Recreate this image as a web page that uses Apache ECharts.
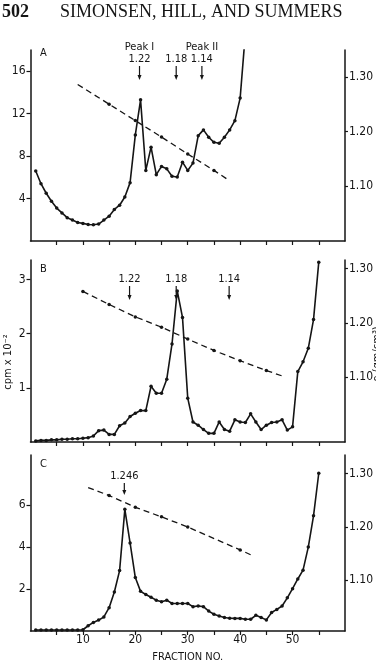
<!DOCTYPE html>
<html>
<head>
<meta charset="utf-8">
<script src="https://cdn.jsdelivr.net/npm/echarts@6/dist/echarts.min.js"></script>
<style>
  html, body { margin: 0; padding: 0; background: #fff; }
  #chart { width: 376px; height: 664px; }
</style>
</head>
<body>
<div id="chart"></div>
<script>
// cpm values per fraction, first entry = fraction 1
const cpmA = [6.6, 5.4, 4.5, 3.75, 3.1, 2.65, 2.2, 1.97, 1.75, 1.66, 1.55, 1.53, 1.6, 1.97, 2.34, 2.97, 3.37, 4.15, 5.5, 10.0,
  13.3, 6.65, 8.84, 6.25, 7.03, 6.8, 6.1, 6.03, 7.43, 6.65, 7.34, 9.93, 10.47, 9.78, 9.3, 9.21, 9.78, 10.47, 11.34, 13.47, 19.6];
const cpmB = [0.02, 0.03, 0.03, 0.04, 0.04, 0.05, 0.05, 0.06, 0.06, 0.07, 0.08, 0.11, 0.21, 0.22, 0.14, 0.14, 0.30, 0.35, 0.47, 0.53,
  0.58, 0.58, 1.03, 0.90, 0.90, 1.16, 1.81, 2.79, 2.30, 0.81, 0.37, 0.31, 0.23, 0.16, 0.16, 0.37, 0.23, 0.20, 0.41, 0.37,
  0.36, 0.52, 0.37, 0.23, 0.31, 0.36, 0.37, 0.41, 0.22, 0.28, 1.30, 1.48, 1.73, 2.26, 3.32];
const cpmC = [0.05, 0.05, 0.05, 0.05, 0.05, 0.05, 0.05, 0.05, 0.05, 0.06, 0.25, 0.41, 0.52, 0.67, 1.11, 1.86, 2.88, 5.8, 4.2, 2.55,
  1.89, 1.74, 1.61, 1.47, 1.39, 1.47, 1.31, 1.31, 1.31, 1.31, 1.16, 1.19, 1.16, 0.95, 0.8, 0.72, 0.64, 0.61, 0.6, 0.6,
  0.56, 0.56, 0.75, 0.64, 0.53, 0.88, 1.03, 1.19, 1.58, 2.02, 2.48, 2.9, 4.0, 5.49, 7.52];

// density (g/cm3) vs fraction, dashed line
const densA = [[9, 1.286], [15, 1.250], [20, 1.220], [25, 1.190], [30, 1.159], [35, 1.129], [38, 1.110]];
const densB = [[10, 1.258], [15, 1.234], [20, 1.211], [25, 1.192], [30, 1.170], [35, 1.149], [40, 1.130], [45, 1.112], [48, 1.102]];
const densC = [[11, 1.274], [15, 1.259], [20, 1.237], [25, 1.219], [30, 1.200], [40, 1.157], [42, 1.148]];

// density markers (fraction, label)
const annoA = [[20.8, 'Peak I\n1.22'], [27.8, '1.18'], [32.7, 'Peak II\n1.14']];
const annoB = [[18.9, '1.22'], [27.8, '1.18'], [37.9, '1.14']];
const annoC = [[17.9, '1.246']];

const xTicks = [5, 10, 15, 20, 25, 30, 35, 40, 45, 50, 55];
const xLabels = [10, 20, 30, 40, 50];
const leftTicksA = [4, 8, 12, 16];
const leftTicksB = [1, 2, 3];
const leftTicksC = [2, 4, 6];
const densTicks = [1.1, 1.2, 1.3];

const ink = '#151515';
const cond = "'Liberation Sans Narrow','DejaVu Sans Condensed',sans-serif";

const grids = [
  { left: 30.5, right: 29, top: 50, height: 191 },
  { left: 30.5, right: 29, top: 260, height: 182 },
  { left: 30.5, right: 29, top: 455, height: 179 },
];

function xAxisFor(i, withLabels) {
  return {
    type: 'value', gridIndex: i, min: 0, max: 60,
    axisLine: { lineStyle: { color: ink, width: 1.5 } },
    axisTick: { customValues: xTicks, length: 4, lineStyle: { color: ink, width: 1.2 } },
    axisLabel: {
      show: withLabels, customValues: xLabels, margin: 3,
      color: ink, fontFamily: cond, fontSize: 12,
    },
    splitLine: { show: false },
    name: withLabels ? 'FRACTION NO.' : '',
    nameLocation: 'middle', nameGap: 21,
    nameTextStyle: { color: ink, fontFamily: cond, fontSize: 11 },
  };
}

function leftAxis(i, max, ticks) {
  return {
    type: 'value', gridIndex: i, min: 0, max: max, position: 'left',
    axisLine: { show: true, lineStyle: { color: ink, width: 1.5 } },
    axisTick: { show: true, customValues: ticks, length: 4, lineStyle: { color: ink, width: 1.2 } },
    axisLabel: { customValues: ticks, margin: 5, color: ink, fontFamily: cond, fontSize: 12 },
    splitLine: { show: false },
  };
}

function rightAxis(i, min, max) {
  return {
    type: 'value', gridIndex: i, min: min, max: max, position: 'right',
    axisLine: { show: true, lineStyle: { color: ink, width: 1.5 } },
    axisTick: { show: true, customValues: densTicks, length: 3, lineStyle: { color: ink, width: 1.2 } },
    axisLabel: {
      customValues: densTicks, margin: 4, color: ink, fontFamily: cond, fontSize: 12,
      formatter: (v) => v.toFixed(2),
    },
    splitLine: { show: false },
  };
}

function cpmSeries(i, values) {
  return {
    type: 'line', xAxisIndex: i, yAxisIndex: i * 2,
    data: values.map((v, k) => [k + 1, v]),
    symbol: 'circle', symbolSize: 3.5, showSymbol: true,
    lineStyle: { color: ink, width: 1.6 },
    itemStyle: { color: ink },
    clip: true, silent: true, z: 3,
  };
}

function densSeries(i, pts) {
  return {
    type: 'line', xAxisIndex: i, yAxisIndex: i * 2 + 1,
    data: pts.map((p) => ({ value: p, symbol: p[0] % 5 === 0 ? 'circle' : 'none' })),
    symbolSize: 3.5,
    lineStyle: { color: ink, width: 1.3, type: [6, 4] },
    itemStyle: { color: ink },
    silent: true, z: 2,
  };
}

function annoSeries(i, items, tipOffset, len) {
  return {
    type: 'custom', xAxisIndex: i, yAxisIndex: i * 2,
    data: items.map((a) => [a[0], 0]),
    silent: true, z: 4, clip: false,
    renderItem: function (params, api) {
      const x = api.coord([api.value(0), 0])[0];
      const tip = params.coordSys.y + tipOffset;
      const top = tip - len;
      return {
        type: 'group',
        children: [
          { type: 'line', shape: { x1: x, y1: top, x2: x, y2: tip - 3 }, style: { stroke: ink, lineWidth: 1.2 } },
          { type: 'polygon', shape: { points: [[x - 2, tip - 5], [x + 2, tip - 5], [x, tip]] }, style: { fill: ink } },
          {
            type: 'text', x: x, y: top - 1,
            style: {
              text: items[params.dataIndex][1], fill: ink, fontFamily: cond, fontSize: 11,
              lineHeight: 12, align: 'center', verticalAlign: 'bottom',
            },
          },
        ],
      };
    },
  };
}

const chart = echarts.init(document.getElementById('chart'), null, { renderer: 'canvas' });

chart.setOption({
  animation: false,
  backgroundColor: '#fff',
  grid: grids,
  xAxis: [xAxisFor(0, false), xAxisFor(1, false), xAxisFor(2, true)],
  yAxis: [
    leftAxis(0, 18, leftTicksA), rightAxis(0, 1.0, 1.349),
    leftAxis(1, 3.36, leftTicksB), rightAxis(1, 0.98, 1.316),
    leftAxis(2, 8.39, leftTicksC), rightAxis(2, 1.005, 1.335),
  ],
  series: [
    cpmSeries(0, cpmA), densSeries(0, densA), annoSeries(0, annoA, 30, 14),
    cpmSeries(1, cpmB), densSeries(1, densB), annoSeries(1, annoB, 40, 14),
    cpmSeries(2, cpmC), densSeries(2, densC), annoSeries(2, annoC, 40, 12),
  ],
  graphic: [
    { type: 'text', x: 2, y: 3, style: { text: '502', fill: ink, font: 'bold 18px "Liberation Serif", serif' } },
    { type: 'text', x: 60, y: 3, style: { text: 'SIMONSEN, HILL, AND SUMMERS', fill: ink, font: '18px "Liberation Serif", serif' } },
    { type: 'text', x: 40, y: 48, style: { text: 'A', fill: ink, fontFamily: cond, fontSize: 11 } },
    { type: 'text', x: 40, y: 264, style: { text: 'B', fill: ink, fontFamily: cond, fontSize: 11 } },
    { type: 'text', x: 40, y: 459, style: { text: 'C', fill: ink, fontFamily: cond, fontSize: 11 } },
    {
      type: 'text', x: 8, y: 362, rotation: Math.PI / 2,
      style: { text: 'cpm x 10⁻²', fill: ink, fontFamily: cond, fontSize: 11, align: 'center', verticalAlign: 'middle' },
    },
    {
      type: 'text', x: 377, y: 354, rotation: Math.PI / 2,
      style: { text: 'ρ (gm/cm³)', fill: ink, fontFamily: cond, fontSize: 11, align: 'center', verticalAlign: 'middle' },
    },
  ],
});
</script>
</body>
</html>
